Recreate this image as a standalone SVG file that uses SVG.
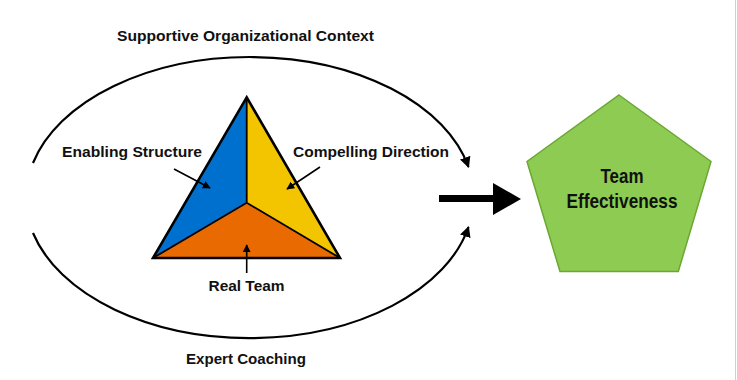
<svg xmlns="http://www.w3.org/2000/svg" width="737" height="380" viewBox="0 0 737 380">
<defs>
<style>
.lbl{font-family:"Liberation Sans",Arial,sans-serif;font-weight:bold;font-size:15.5px;fill:#111;}
.big{font-family:"Liberation Sans",Arial,sans-serif;font-weight:bold;font-size:19.5px;fill:#111;}
.arc{fill:none;stroke:#000;stroke-width:2.2;}
.ptr{fill:none;stroke:#000;stroke-width:1.6;}
</style>
<marker id="ah" viewBox="0 0 10 10" refX="9" refY="5" markerWidth="11" markerHeight="11" markerUnits="userSpaceOnUse" orient="auto">
<path d="M0,0 L10,5 L0,10 Z" fill="#000"/>
</marker>
<marker id="ahs" viewBox="0 0 10 10" refX="9" refY="5" markerWidth="8" markerHeight="8" markerUnits="userSpaceOnUse" orient="auto">
<path d="M0,0 L10,5 L0,10 Z" fill="#000"/>
</marker>
</defs>
<rect width="737" height="380" fill="#fff"/>
<line x1="735.5" y1="0" x2="735.5" y2="380" stroke="#d0d0d0" stroke-width="1"/>

<g id="triangle">
<polygon points="246.7,97.3 153,258 246.7,202.7" fill="#0070CF"/>
<polygon points="246.7,97.3 340,258 246.7,202.7" fill="#F2C500"/>
<polygon points="153,258 340,258 246.7,202.7" fill="#E86A00"/>
<path d="M246.7,97.3 L246.7,202.7 M153,258 L246.7,202.7 L340,258" fill="none" stroke="#000" stroke-width="1.8"/>
<polygon points="246.7,97.3 153,258 340,258" fill="none" stroke="#000" stroke-width="2.6" stroke-linejoin="miter"/>
</g>

<g id="connectors">
<path class="arc" d="M33,163 A224,141 0 0 1 468.5,167" marker-end="url(#ah)"/>
<path class="arc" d="M33,233 A224,141 0 0 0 468.5,227" marker-end="url(#ah)"/>
<path class="ptr" d="M174,169 L210,188" marker-end="url(#ahs)"/>
<path class="ptr" d="M320,167 L287,189" marker-end="url(#ahs)"/>
<path class="ptr" d="M246.7,273 L246.7,245" marker-end="url(#ahs)"/>
<path d="M439,195 L493,195 L493,183 L521,199 L493,215 L493,202 L439,202 Z" fill="#000"/>
</g>

<g id="label-context"><text class="lbl" x="117" y="40.5" textLength="257" lengthAdjust="spacingAndGlyphs">Supportive Organizational Context</text></g>
<g id="label-structure"><text class="lbl" x="62" y="157" textLength="140" lengthAdjust="spacingAndGlyphs">Enabling Structure</text></g>
<g id="label-direction"><text class="lbl" x="293" y="157" textLength="156" lengthAdjust="spacingAndGlyphs">Compelling Direction</text></g>
<g id="label-realteam"><text class="lbl" x="208.5" y="291" textLength="76" lengthAdjust="spacingAndGlyphs">Real Team</text></g>
<g id="label-coaching"><text class="lbl" x="186" y="364" textLength="120" lengthAdjust="spacingAndGlyphs">Expert Coaching</text></g>

<g id="team-effectiveness">
<polygon points="619,95 711,161.5 678.3,271.5 560,271.5 527,161.5" fill="#8DCB52" stroke="#6BA832" stroke-width="1.5"/>
<text class="big" x="622" y="183.3" text-anchor="middle" textLength="43" lengthAdjust="spacingAndGlyphs">Team</text>
<text class="big" x="622" y="208.3" text-anchor="middle" textLength="111" lengthAdjust="spacingAndGlyphs">Effectiveness</text>
</g>
</svg>
